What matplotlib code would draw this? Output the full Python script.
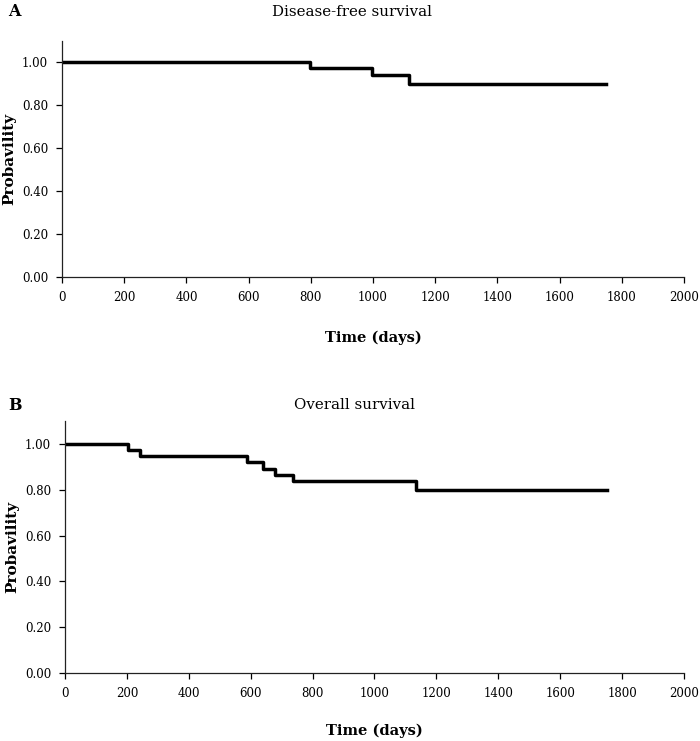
import matplotlib
matplotlib.use("Agg")
import matplotlib.pyplot as plt

plt.rcParams['font.family'] = ['DejaVu Serif']

# Disease-free survival (panel A): event times (days) and survival levels
dfs_days = [0, 797, 996, 1116, 1750]
dfs_prob = [1.00, 0.973, 0.943, 0.900, 0.900]

# Overall survival (panel B)
os_days = [0, 203, 242, 587, 641, 679, 738, 1134, 1750]
os_prob = [1.00, 0.973, 0.946, 0.919, 0.892, 0.865, 0.838, 0.800, 0.800]

xticks = [0, 200, 400, 600, 800, 1000, 1200, 1400, 1600, 1800, 2000]
yticks = [0.0, 0.2, 0.4, 0.6, 0.8, 1.0]

fig = plt.figure(figsize=(7.0, 7.41), dpi=100)
axA = fig.add_axes([0.0886, 0.626, 0.8884, 0.3187])
axB = fig.add_axes([0.0929, 0.0918, 0.8841, 0.340])

panels = [
    (axA, dfs_days, dfs_prob, 19),
    (axB, os_days, os_prob, 17),
]

for ax, days, prob, xpad in panels:
    ax.step(days, prob, where='post', color='black', lw=2.5)
    ax.set_xlim(0, 2000)
    ax.set_ylim(0, 1.1)
    ax.set_xticks(xticks)
    ax.set_yticks(yticks)
    ax.set_yticklabels([f"{v:.2f}" for v in yticks])
    ax.spines['top'].set_visible(False)
    ax.spines['right'].set_visible(False)
    for s in ['left', 'bottom']:
        ax.spines[s].set_linewidth(0.9)
        ax.spines[s].set_color('#222222')
    ax.tick_params(direction='out', length=4, width=0.9, labelsize=8.5, pad=6)
    ax.set_xlabel("Time (days)", fontsize=10.5, fontweight='bold', labelpad=xpad)
    ax.set_ylabel("Probavility", fontsize=11, fontweight='bold', labelpad=4)

# panel letters and titles
fig.text(0.012, 0.984, "A", fontsize=11.5, fontweight='bold', va='center')
fig.text(0.503, 0.984, "Disease-free survival", fontsize=10.8, ha='center', va='center')
fig.text(0.012, 0.453, "B", fontsize=11.5, fontweight='bold', va='center')
fig.text(0.507, 0.453, "Overall survival", fontsize=10.8, ha='center', va='center')

fig.savefig("out.png", dpi=100)
